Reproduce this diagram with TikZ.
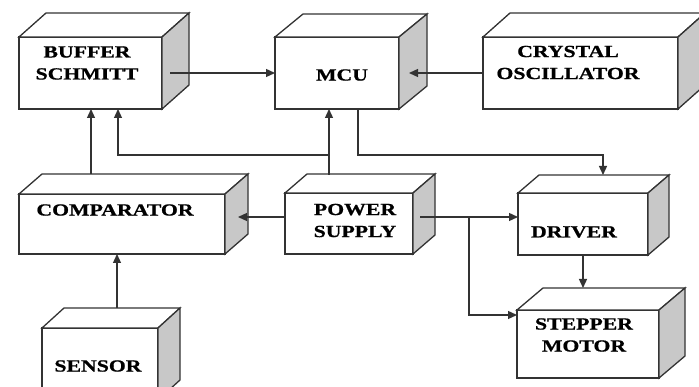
\documentclass[tikz,border=0pt]{standalone}
\usepackage{fontspec}
\setmainfont{Liberation Serif}[FakeStretch=1.28, BoldFeatures={FakeBold=0.8}]
\usetikzlibrary{arrows.meta,calc}
\definecolor{lc}{HTML}{333333}
\definecolor{sidegray}{HTML}{C8C8C8}
\newcommand\mycube[7]{%
 \node[front, minimum width={(#4-#2)*1pt}, minimum height={(#5-#3)*1pt}] (#1) at ({(#2+#4)/2},{(#3+#5)/2}) {};
 \draw[face, fill=white] (#1.north west) -- ++(#6,#7) -- ($(#1.north east)+(#6,#7)$) -- (#1.north east) -- cycle;
 \draw[face, fill=sidegray] (#1.north east) -- ++(#6,#7) -- ($(#1.south east)+(#6,#7)$) -- (#1.south east) -- cycle;
}
\begin{document}
\begin{tikzpicture}[x=1pt,y=-1pt,
  front/.style={draw=lc, fill=white, line width=1.3pt, inner sep=0pt, outer sep=0pt},
  face/.style={draw=lc, line width=1.3pt, line join=miter},
  lbl/.style={font=\fontsize{17}{22}\selectfont\bfseries, align=center, inner sep=0pt, text=black},
  arr/.style={draw=lc, line width=1.3pt, -{Triangle[length=9pt,width=8pt]}},
  ln/.style={draw=lc, line width=1.3pt}]
\useasboundingbox (0,0) rectangle (699,387);
\fill[white] (0,0) rectangle (699,387);

\mycube{buf}{19}{37}{162}{109}{27}{-24}
\mycube{mcu}{275}{37}{399}{109}{28}{-23}
\mycube{cry}{483}{37}{678}{109}{27}{-24}
\mycube{cmp}{19}{194}{225}{254}{23}{-20}
\mycube{pwr}{285}{193}{413}{254}{22}{-19}
\mycube{drv}{518}{193}{648}{255}{21}{-18}
\mycube{stp}{517}{310}{659}{378}{26}{-22}
\mycube{sen}{42}{328}{158}{400}{22}{-20}

\node[lbl] (bufT) at (87,63) {BUFFER\\SCHMITT};
\node[lbl] (mcuT) at (342,75) {MCU};
\node[lbl] (cryT) at (568,62.5) {CRYSTAL\\OSCILLATOR};
\node[lbl] (cmpT) at (115,210) {COMPARATOR};
\node[lbl] (pwrT) at (355,220.5) {POWER\\SUPPLY};
\node[lbl] (drvT) at (574,232) {DRIVER};
\node[lbl] (stpT) at (584,335) {STEPPER\\MOTOR};
\node[lbl] (senT) at (98,366) {SENSOR};

% connectors
\draw[arr] ($(buf.east)+(8,0)$) -- (mcu.west);
\draw[arr] (cry.west) -- ($(mcu.east)+(10,0)$);
\coordinate (c1) at (91,174);
\draw[arr] (c1) -- (c1 |- buf.south);
\coordinate (p1) at (329,175);
\draw[arr] (p1) -- (p1 |- mcu.south);
\coordinate (j1) at (329,155);
\coordinate (b2) at (118,155);
\draw[arr] (j1) -- (b2) -- (b2 |- buf.south);
\coordinate (m1) at (358,109);
\coordinate (m2) at (603,155);
\coordinate (d1) at (603,175);
\draw[arr] (m1) |- (m2) -- (d1);
\coordinate (pw) at (285,217);
\coordinate (cs) at (238,217);
\draw[arr] (pw) -- (cs);
\coordinate (pe) at (420,217);
\draw[arr] (pe) -- (pe -| drv.west);
\coordinate (j2) at (469,217);
\coordinate (j3) at (469,315);
\draw[arr] (j2) -- (j3) -- (j3 -| stp.west);
\coordinate (d2) at (583,255);
\coordinate (d3) at (583,288);
\draw[arr] (d2) -- (d3);
\coordinate (s1) at (117,308);
\draw[arr] (s1) -- (s1 |- cmp.south);
\end{tikzpicture}
\end{document}
